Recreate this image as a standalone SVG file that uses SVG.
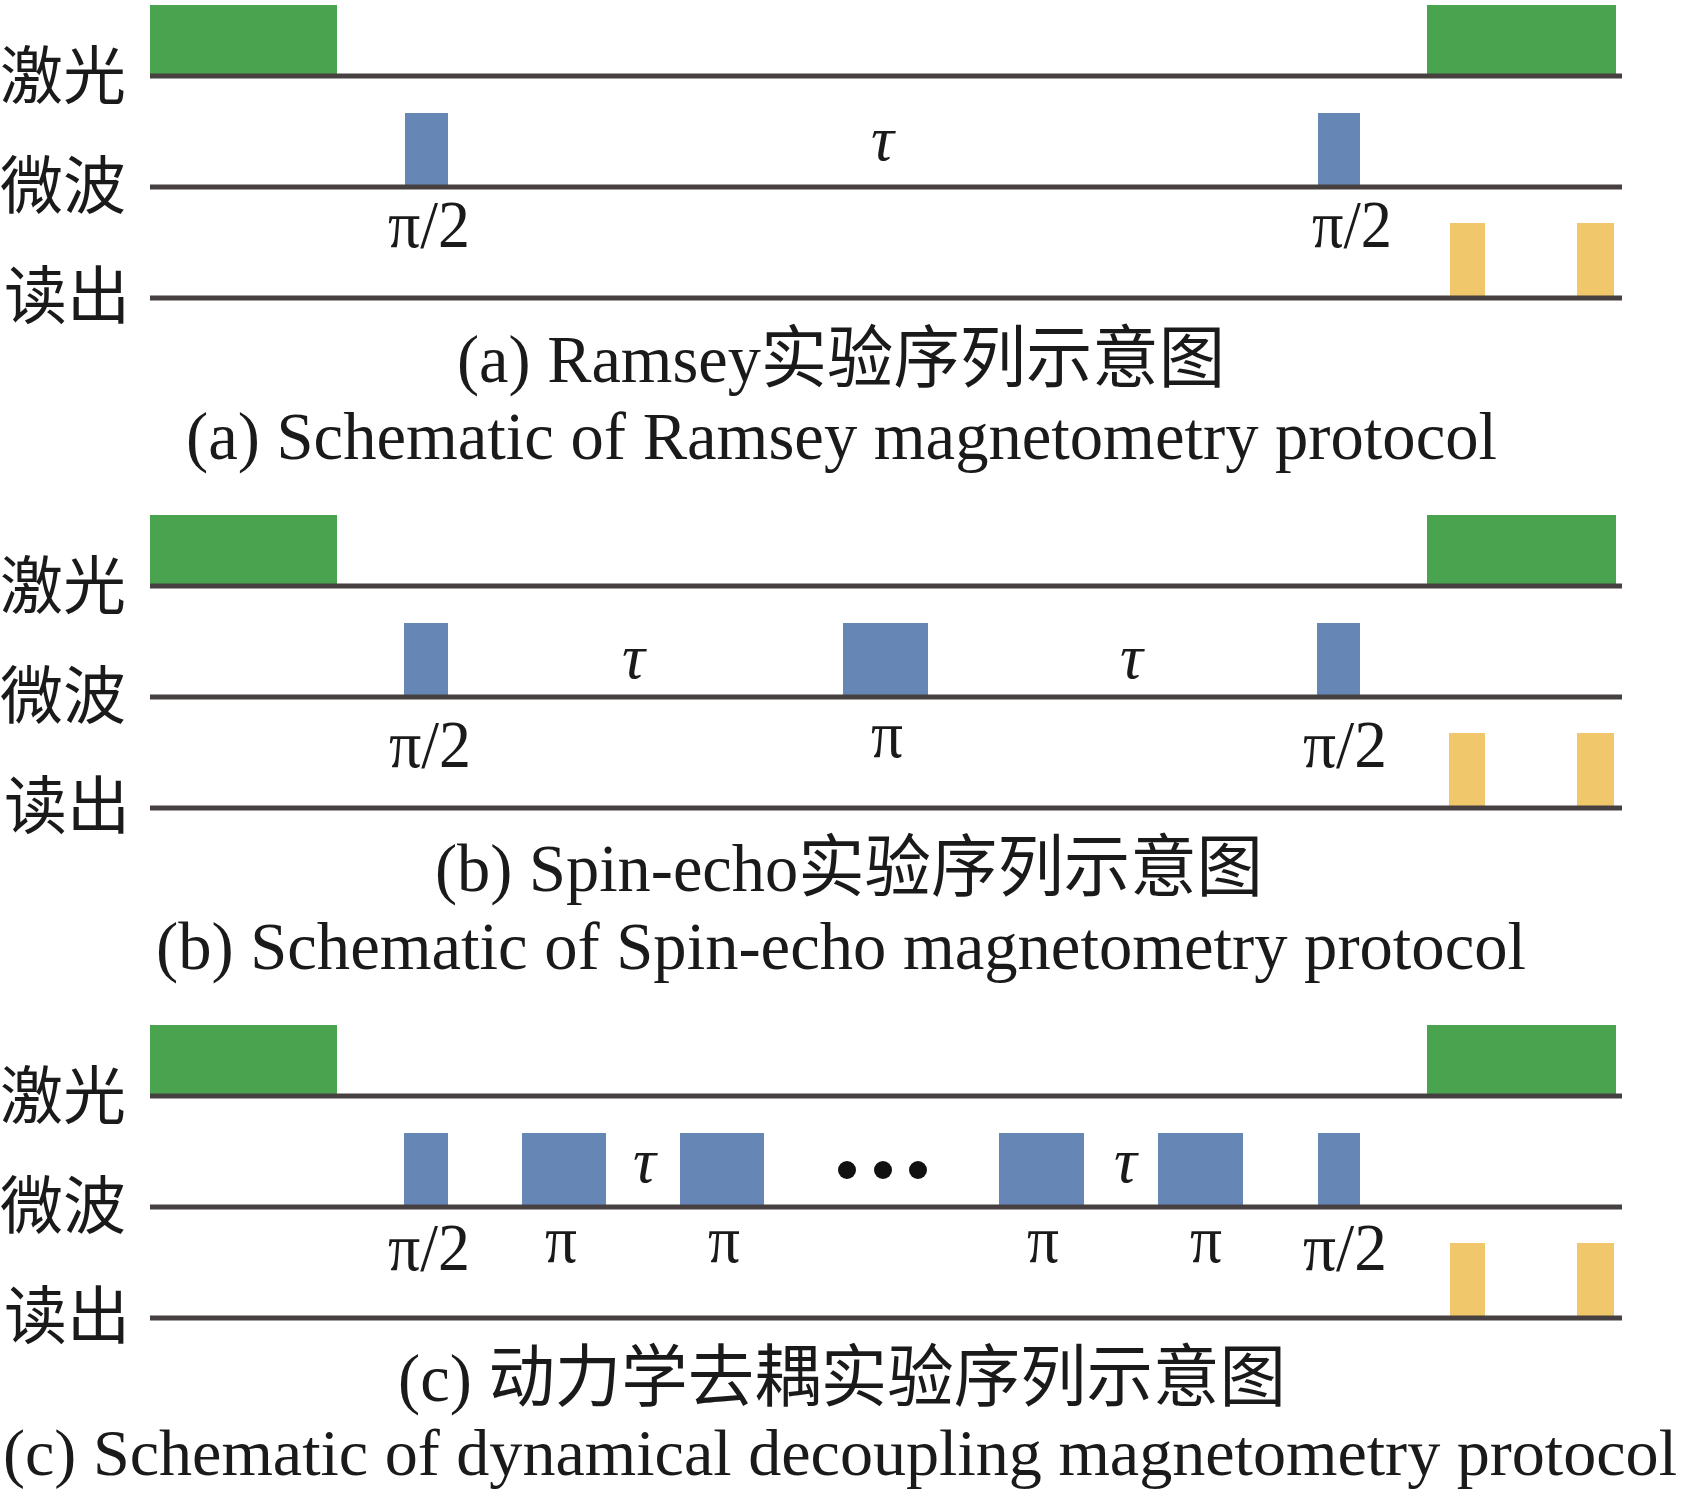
<svg xmlns="http://www.w3.org/2000/svg" width="1685" height="1493" viewBox="0 0 1685 1493">
<style>
.ln{stroke:#474040;stroke-width:5;fill:none}
.g{fill:#4aa44f}
.b{fill:#6686b5}
.y{fill:#f1c76b}
.cn{font-family:"Noto Sans CJK SC",sans-serif;font-size:63px;fill:#1a1a1a}
.pi{font-family:"Liberation Serif","Times New Roman",serif;font-size:68px;fill:#1a1a1a}
.tau{font-family:"Liberation Serif","Times New Roman",serif;font-style:italic;font-size:64px;fill:#1a1a1a}
.cap{font-family:"Liberation Serif","Noto Sans CJK SC",serif;font-size:68px;fill:#1a1a1a}
.dot{fill:#111}
</style>
<rect width="1685" height="1493" fill="#ffffff"/>

<g id="panel-a">
  <g id="a-labels">
    <text class="cn" x="0" y="98">激光</text>
    <text class="cn" x="0" y="208">微波</text>
    <text class="cn" x="4" y="318">读出</text>
  </g>
  <g id="a-pulses">
    <rect class="g" x="150" y="5" width="187" height="71"/>
    <rect class="g" x="1427" y="5" width="189" height="71"/>
    <rect class="b" x="405" y="113" width="43" height="74"/>
    <rect class="b" x="1318" y="113" width="42" height="74"/>
    <rect class="y" x="1450" y="223" width="35" height="75"/>
    <rect class="y" x="1577" y="223" width="37" height="75"/>
  </g>
  <g id="a-connectors">
    <line class="ln" x1="150" y1="76" x2="1622" y2="76"/>
    <line class="ln" x1="150" y1="187" x2="1622" y2="187"/>
    <line class="ln" x1="150" y1="298" x2="1622" y2="298"/>
  </g>
  <g id="a-text">
    <text class="pi" x="388" y="247" textLength="82" lengthAdjust="spacingAndGlyphs">π/2</text>
    <text class="pi" x="1312" y="247" textLength="80" lengthAdjust="spacingAndGlyphs">π/2</text>
    <text class="tau" x="871" y="160">τ</text>
    <text class="cap" x="457" y="382" textLength="768" lengthAdjust="spacingAndGlyphs">(a) Ramsey实验序列示意图</text>
    <text class="cap" x="186" y="459" textLength="1311" lengthAdjust="spacingAndGlyphs">(a) Schematic of Ramsey magnetometry protocol</text>
  </g>
</g>

<g id="panel-b" transform="translate(0,510)">
  <g id="b-labels">
    <text class="cn" x="0" y="98">激光</text>
    <text class="cn" x="0" y="208">微波</text>
    <text class="cn" x="4" y="318">读出</text>
  </g>
  <g id="b-pulses">
    <rect class="g" x="150" y="5" width="187" height="71"/>
    <rect class="g" x="1427" y="5" width="189" height="71"/>
    <rect class="b" x="404" y="113" width="44" height="74"/>
    <rect class="b" x="843" y="113" width="85" height="74"/>
    <rect class="b" x="1317" y="113" width="43" height="74"/>
    <rect class="y" x="1449" y="223" width="36" height="75"/>
    <rect class="y" x="1577" y="223" width="37" height="75"/>
  </g>
  <g id="b-connectors">
    <line class="ln" x1="150" y1="76" x2="1622" y2="76"/>
    <line class="ln" x1="150" y1="187" x2="1622" y2="187"/>
    <line class="ln" x1="150" y1="298" x2="1622" y2="298"/>
  </g>
  <g id="b-text">
    <text class="pi" x="389" y="257" textLength="82" lengthAdjust="spacingAndGlyphs">π/2</text>
    <text class="pi" x="871" y="247" textLength="32" lengthAdjust="spacingAndGlyphs">π</text>
    <text class="pi" x="1303" y="257" textLength="84" lengthAdjust="spacingAndGlyphs">π/2</text>
    <text class="tau" x="622" y="168">τ</text>
    <text class="tau" x="1120" y="168">τ</text>
    <text class="cap" x="435" y="381" textLength="828" lengthAdjust="spacingAndGlyphs">(b) Spin-echo实验序列示意图</text>
    <text class="cap" x="156" y="459" textLength="1370" lengthAdjust="spacingAndGlyphs">(b) Schematic of Spin-echo magnetometry protocol</text>
  </g>
</g>

<g id="panel-c" transform="translate(0,1020)">
  <g id="c-labels">
    <text class="cn" x="0" y="98">激光</text>
    <text class="cn" x="0" y="208">微波</text>
    <text class="cn" x="4" y="318">读出</text>
  </g>
  <g id="c-pulses">
    <rect class="g" x="150" y="5" width="187" height="71"/>
    <rect class="g" x="1427" y="5" width="189" height="71"/>
    <rect class="b" x="404" y="113" width="44" height="74"/>
    <rect class="b" x="522" y="113" width="84" height="74"/>
    <rect class="b" x="680" y="113" width="84" height="74"/>
    <rect class="b" x="999" y="113" width="85" height="74"/>
    <rect class="b" x="1158" y="113" width="85" height="74"/>
    <rect class="b" x="1318" y="113" width="42" height="74"/>
    <rect class="y" x="1450" y="223" width="35" height="75"/>
    <rect class="y" x="1577" y="223" width="37" height="75"/>
    <circle class="dot" cx="847" cy="150" r="9"/>
    <circle class="dot" cx="883" cy="150" r="9"/>
    <circle class="dot" cx="918" cy="150" r="9"/>
  </g>
  <g id="c-connectors">
    <line class="ln" x1="150" y1="76" x2="1622" y2="76"/>
    <line class="ln" x1="150" y1="187" x2="1622" y2="187"/>
    <line class="ln" x1="150" y1="298" x2="1622" y2="298"/>
  </g>
  <g id="c-text">
    <text class="pi" x="388" y="250" textLength="82" lengthAdjust="spacingAndGlyphs">π/2</text>
    <text class="pi" x="545" y="242" textLength="32" lengthAdjust="spacingAndGlyphs">π</text>
    <text class="pi" x="708" y="242" textLength="32" lengthAdjust="spacingAndGlyphs">π</text>
    <text class="pi" x="1027" y="242" textLength="32" lengthAdjust="spacingAndGlyphs">π</text>
    <text class="pi" x="1190" y="242" textLength="32" lengthAdjust="spacingAndGlyphs">π</text>
    <text class="pi" x="1303" y="250" textLength="84" lengthAdjust="spacingAndGlyphs">π/2</text>
    <text class="tau" x="633" y="162">τ</text>
    <text class="tau" x="1114" y="162">τ</text>
    <text class="cap" x="398" y="381" textLength="888" lengthAdjust="spacingAndGlyphs">(c) 动力学去耦实验序列示意图</text>
    <text class="cap" x="3" y="455" style="font-size:66px" textLength="1674" lengthAdjust="spacingAndGlyphs">(c) Schematic of dynamical decoupling magnetometry protocol</text>
  </g>
</g>
</svg>
